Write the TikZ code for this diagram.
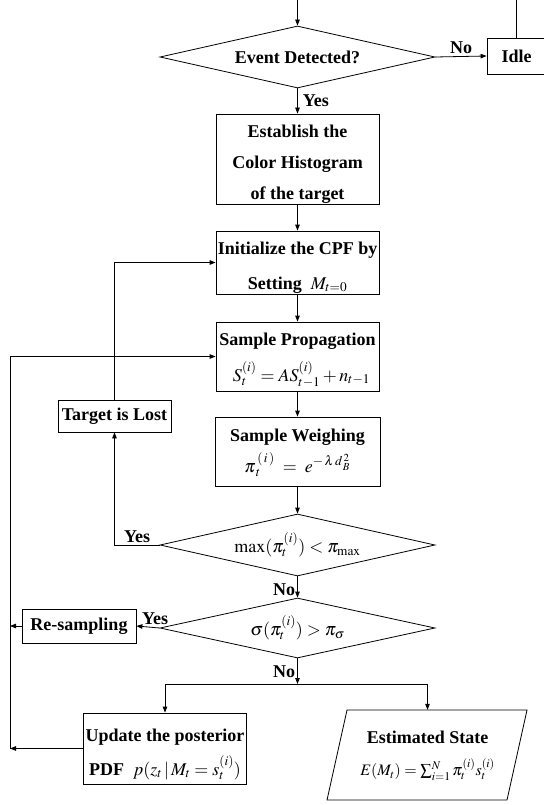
\documentclass[tikz,border=0pt]{standalone}
\usepackage{mathptmx}
\usepackage{fontspec}
\setmainfont{Liberation Serif}
\usetikzlibrary{shapes.geometric,arrows.meta}
\newcommand\lab{\fontsize{18}{31}\selectfont\bfseries}
\newcommand\upstrut[1]{\rule{0pt}{#1}}
\tikzset{
  ln/.style={line width=0.8pt},
  arr/.style={ln,-{Triangle[length=6pt,width=4.5pt]}},
  box/.style={draw,ln,rectangle,inner sep=1pt,align=center,font=\lab},
  dec/.style={draw,ln,diamond,aspect=4.4,minimum width=275pt,minimum height=62pt,inner sep=1pt,font=\lab},
  lbl/.style={font=\lab,inner sep=2pt}
}
\begin{document}
\begin{tikzpicture}[x=1pt,y=-1pt]
\useasboundingbox (0,0) rectangle (543,805);
\coordinate (top) at (297.5,0);
\node[dec] (d1) at (297.5,57) {Event Detected?};
\node[box,minimum width=59pt,minimum height=36pt] (idle) at (516.5,56) {Idle};
\node[box,minimum width=163pt,minimum height=90pt] (b1) at (297.5,159) {\upstrut{22pt}Establish the\\Color Histogram\\of the target};
\node[box,minimum width=163pt,minimum height=63pt] (init) at (297.5,262.5) {\upstrut{22pt}Initialize the CPF by\\[4pt]Setting\ \ $M_{t=0}$};
\node[box,minimum width=163pt,minimum height=69pt] (sp) at (297.5,356.5) {\upstrut{20pt}Sample Propagation\\[5pt]\hspace*{8pt}$S_t^{(i)} = AS_{t-1}^{(i)} + n_{t-1}$};
\node[box,minimum width=113pt,minimum height=32pt] (tl) at (114.5,416) {Target is Lost};
\node[box,minimum width=165pt,minimum height=69pt] (sw) at (297.5,451.5) {\upstrut{15pt}Sample Weighing\\$\pi_{\,t}^{\,(\,i\,)}\;=\;e^{-\,\lambda\,d_{\,B}^{\,2}}$};
\node[dec] (d2) at (297.5,545) {$\max(\pi_t^{(i)}) < \pi_{\max}$};
\node[dec,minimum height=60pt] (d3) at (297.5,628) {$\sigma(\pi_t^{(i)}) > \pi_\sigma$};
\node[box,minimum width=114pt,minimum height=34pt] (rs) at (79,626) {Re-sampling};
\node[box,minimum width=163.5pt,minimum height=71pt] (upd) at (165,748.5) {\upstrut{24pt}Update the posterior\\[3pt]PDF\ \ $p(z_t\,|\,M_t = s_t^{(i)})$};
\draw[ln] (347,710) -- (527,710) -- (507,800) -- (327,800) -- cycle;
\node[inner sep=0pt,minimum width=160pt,minimum height=90pt,align=center,font=\lab] (est) at (427.5,755) {\upstrut{14pt}Estimated State\\[1pt]{\fontsize{16}{20}\selectfont$E(M_t) = \sum_{i=1}^{N}\pi_t^{(i)}s_t^{(i)}$}};
\coordinate (j) at (297.5,684);
\coordinate (lb) at (10,748.5);
% connectors
\draw[arr] (top) -- (d1.north);
\draw[arr] (d1.east) -- node[lbl,above] {No} (idle.west);
\draw[ln] (idle.north) -- (idle.north |- top);
\draw[arr] (d1.south) -- node[lbl,right,xshift=3pt] {Yes} (b1.north);
\draw[arr] (b1) -- (init);
\draw[arr] (init) -- (sp);
\draw[arr] (sp) -- (sw);
\draw[arr] (sw) -- (d2);
\draw[arr] (d2.west) -| node[lbl,pos=0.25,above] {Yes} (tl.south);
\draw[arr] (tl.north) |- (init.west);
\draw[arr] (d2.south) -- node[lbl,left,yshift=-3pt] {No} (d3.north);
\draw[arr] (d3.west) -- node[lbl,above,xshift=7pt] {Yes} (rs.east);
\draw[arr] (rs.west) -- (rs.west -| lb);
\draw[arr] (d3.south) -- node[lbl,left] {No} (j);
\draw[arr] (j) -| (upd.north);
\draw[arr] (j) -| (est.north);
\draw[arr] (upd.west) -- (lb);
\draw[arr] (lb) |- (sp.west);
\end{tikzpicture}
\end{document}
